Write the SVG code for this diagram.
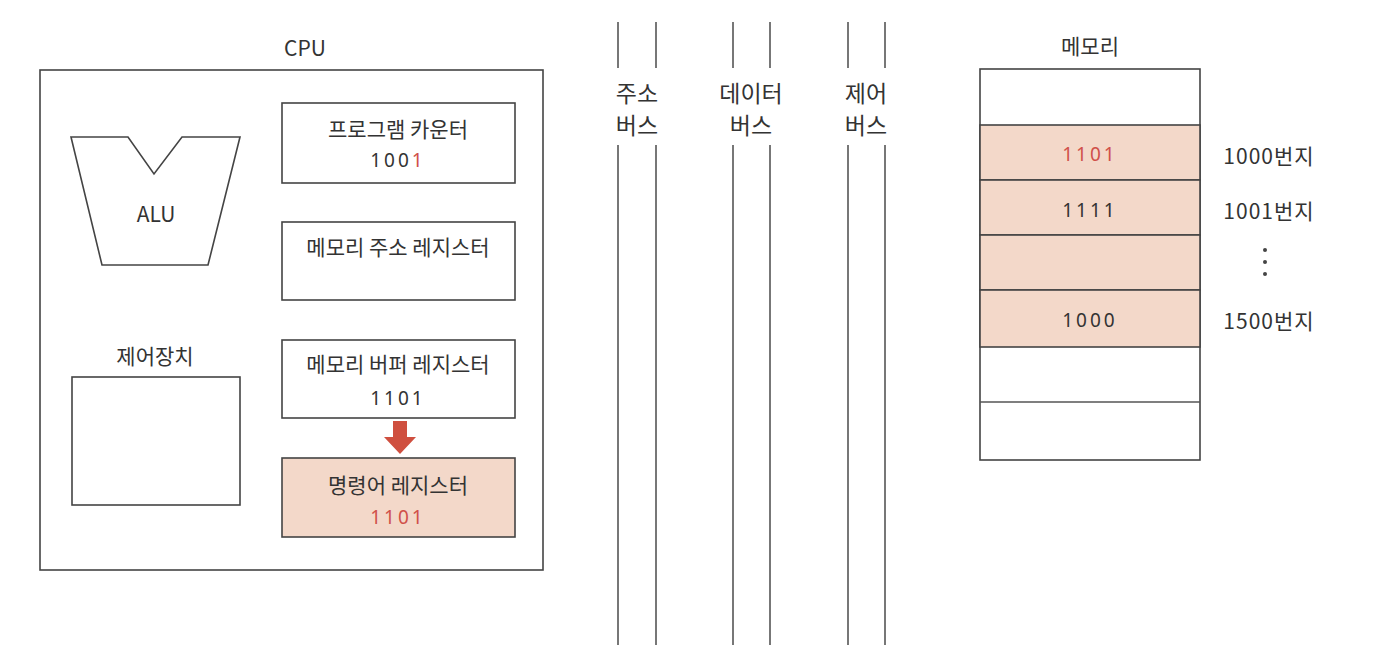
<svg xmlns="http://www.w3.org/2000/svg" width="1374" height="650" viewBox="0 0 1374 650">
<style>
.box{fill:#fff;stroke:#444;stroke-width:1.6}
.pink{fill:#f3d8c9;stroke:#444;stroke-width:1.6}
.t{font-family:"Noto Sans CJK KR","Noto Sans",sans-serif;font-size:21px;fill:#333;text-anchor:middle;dominant-baseline:central}
.b{font-size:23px}
.n{font-family:"Noto Sans","DejaVu Sans",sans-serif;font-size:19px;fill:#333;text-anchor:middle;dominant-baseline:central;letter-spacing:3px}
.red{fill:#d0504a}
.bus{stroke:#555;stroke-width:1.6}
</style>
<rect width="1374" height="650" fill="#fff"/>
<g id="cpu">
<text class="t" x="305" y="47">CPU</text>
<rect class="box" x="40" y="70" width="503" height="500"/>
</g>
<g id="alu">
<polygon class="box" points="71,137 128,137 154,174 182,137 240,137 208,265 102,265"/>
<text class="t" x="156" y="213">ALU</text>
</g>
<g id="control">
<text class="t" x="155" y="355">제어장치</text>
<rect class="box" x="72" y="377" width="168" height="128"/>
</g>
<g id="pc">
<rect class="box" x="282" y="103" width="233" height="80"/>
<text class="t" x="398" y="128">프로그램 카운터</text>
<text class="n" x="398" y="160">100<tspan class="red">1</tspan></text>
</g>
<g id="mar">
<rect class="box" x="282" y="222" width="233" height="78"/>
<text class="t" x="398" y="246">메모리 주소 레지스터</text>
</g>
<g id="mbr">
<rect class="box" x="282" y="340" width="233" height="78"/>
<text class="t" x="398" y="363">메모리 버퍼 레지스터</text>
<text class="n" x="398" y="398">1101</text>
</g>
<g id="ir">
<rect class="pink" x="282" y="458" width="233" height="79"/>
<text class="t" x="398" y="484">명령어 레지스터</text>
<text class="n red" x="398" y="517">1101</text>
</g>
<g id="connectors">
<polygon fill="#cf4f3f" points="393,421 407,421 407,437 416,437 400,454 384,437 393,437"/>
<line class="bus" x1="618" y1="22" x2="618" y2="68"/>
<line class="bus" x1="656" y1="22" x2="656" y2="68"/>
<line class="bus" x1="618" y1="145" x2="618" y2="645"/>
<line class="bus" x1="656" y1="145" x2="656" y2="645"/>
<line class="bus" x1="733" y1="22" x2="733" y2="68"/>
<line class="bus" x1="770" y1="22" x2="770" y2="68"/>
<line class="bus" x1="733" y1="145" x2="733" y2="645"/>
<line class="bus" x1="770" y1="145" x2="770" y2="645"/>
<line class="bus" x1="848" y1="22" x2="848" y2="68"/>
<line class="bus" x1="885" y1="22" x2="885" y2="68"/>
<line class="bus" x1="848" y1="145" x2="848" y2="645"/>
<line class="bus" x1="885" y1="145" x2="885" y2="645"/>
</g>
<g id="bus-labels">
<text class="t b" x="637" y="92">주소</text>
<text class="t b" x="637" y="124">버스</text>
<text class="t b" x="751" y="92">데이터</text>
<text class="t b" x="751" y="124">버스</text>
<text class="t b" x="866" y="92">제어</text>
<text class="t b" x="866" y="124">버스</text>
</g>
<g id="memory">
<text class="t" x="1090" y="45">메모리</text>
<rect class="box" x="980" y="69" width="220" height="391"/>
<rect class="pink" x="980" y="125" width="220" height="55"/>
<rect class="pink" x="980" y="180" width="220" height="55"/>
<rect class="pink" x="980" y="235" width="220" height="55"/>
<rect class="pink" x="980" y="290" width="220" height="57"/>
<line class="bus" x1="980" y1="402" x2="1200" y2="402"/>
<text class="n red" x="1090" y="154">1101</text>
<text class="n" x="1090" y="210">1111</text>
<text class="n" x="1090" y="320">1000</text>
<text class="t" x="1269" y="155" letter-spacing="1">1000번지</text>
<text class="t" x="1269" y="210" letter-spacing="1">1001번지</text>
<circle cx="1265" cy="250" r="2" fill="#444"/>
<circle cx="1265" cy="262" r="2" fill="#444"/>
<circle cx="1265" cy="274" r="2" fill="#444"/>
<text class="t" x="1269" y="320" letter-spacing="1">1500번지</text>
</g>
</svg>
